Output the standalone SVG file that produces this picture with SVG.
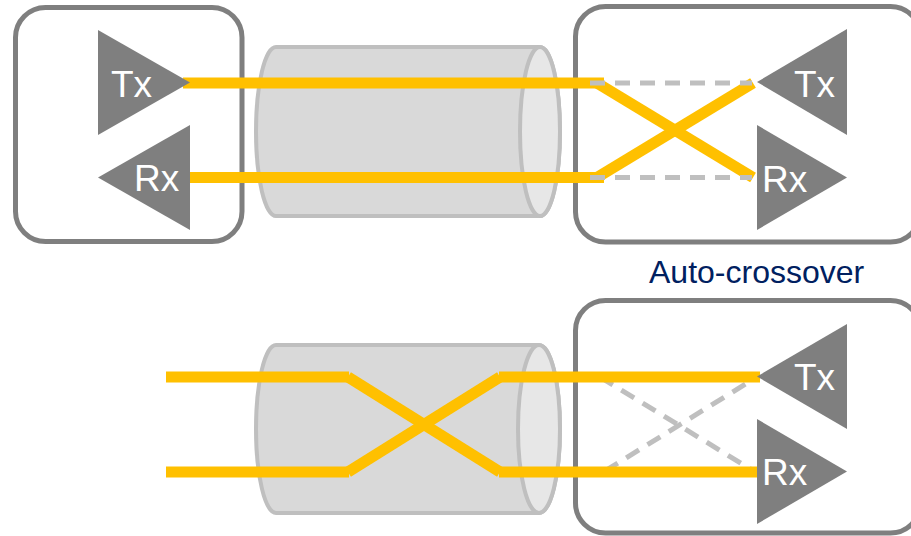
<svg xmlns="http://www.w3.org/2000/svg" width="911" height="536" viewBox="0 0 911 536">
<style>
.box{fill:#ffffff;stroke:#7f7f7f;stroke-width:5}
.tri{fill:#7f7f7f}
.lbl{font-family:"Liberation Sans",Arial,sans-serif;font-size:37px;fill:#ffffff}
.cyl{fill:#d9d9d9;stroke:#bfbfbf;stroke-width:4}
.cend{fill:#e7e7e7;stroke:#bfbfbf;stroke-width:4}
.wire{stroke:#ffc000;stroke-width:11;fill:none}
.dash{stroke:#bfbfbf;stroke-width:5;stroke-dasharray:15 10;fill:none}
</style>
<rect width="911" height="536" fill="#ffffff"/>
<g id="box-left-top"><rect class="box" x="15.5" y="7.5" width="226.5" height="234" rx="30"/></g>
<g id="box-right-top"><rect class="box" x="575.5" y="6.5" width="345" height="235.5" rx="30"/></g>
<g id="box-right-bottom"><rect class="box" x="575.5" y="300.5" width="345" height="232.5" rx="30"/></g>
<g id="cable-top">
<path class="cyl" d="M276,47 H540 A20,84.5 0 0 1 540,216 H276 A20,84.5 0 0 1 276,47 Z"/>
<ellipse class="cend" cx="540" cy="131.5" rx="20" ry="84.5"/>
</g>
<g id="cable-bottom">
<path class="cyl" d="M276,345 H539 A21,84 0 0 1 539,513 H276 A20,84 0 0 1 276,345 Z"/>
<ellipse class="cend" cx="539" cy="429" rx="21" ry="84"/>
</g>
<g id="connectors">
<line class="wire" x1="183" y1="83" x2="604" y2="83"/>
<line class="wire" x1="190" y1="177.5" x2="604" y2="177.5"/>
<line class="wire" x1="597" y1="83" x2="753" y2="177.5"/>
<line class="wire" x1="597" y1="177.5" x2="753" y2="83"/>
<line class="dash" x1="590" y1="83" x2="752" y2="83"/>
<line class="dash" x1="590" y1="177.5" x2="752" y2="177.5"/>
<line class="dash" x1="600" y1="377" x2="752" y2="470"/>
<line class="dash" x1="605" y1="471" x2="752" y2="380"/>
<line class="wire" x1="166" y1="377" x2="349" y2="377"/>
<line class="wire" x1="166" y1="472" x2="349" y2="472"/>
<line class="wire" x1="348" y1="377" x2="500" y2="472"/>
<line class="wire" x1="348" y1="472" x2="500" y2="377"/>
<line class="wire" x1="499" y1="377" x2="760" y2="377"/>
<line class="wire" x1="499" y1="472" x2="757" y2="472"/>
</g>
<g id="tx-left"><polygon class="tri" points="98,30 98,135 190,82.5"/><text class="lbl" x="111" y="97">Tx</text></g>
<g id="rx-left"><polygon class="tri" points="190,125 190,230 98,177.5"/><text class="lbl" x="134" y="191">Rx</text></g>
<g id="tx-right-top"><polygon class="tri" points="847,29 847,135 757,82"/><text class="lbl" x="794" y="97">Tx</text></g>
<g id="rx-right-top"><polygon class="tri" points="757,125 757,230 847,177.5"/><text class="lbl" x="762" y="192">Rx</text></g>
<g id="tx-right-bottom"><polygon class="tri" points="847,324 847,429 757,376.5"/><text class="lbl" x="794" y="390">Tx</text></g>
<g id="rx-right-bottom"><polygon class="tri" points="757,419 757,524 847,471.5"/><text class="lbl" x="762" y="485">Rx</text></g>
<g id="caption"><text x="649" y="283" font-family="'Liberation Sans',Arial,sans-serif" font-size="32" fill="#002060">Auto-crossover</text></g>
</svg>
